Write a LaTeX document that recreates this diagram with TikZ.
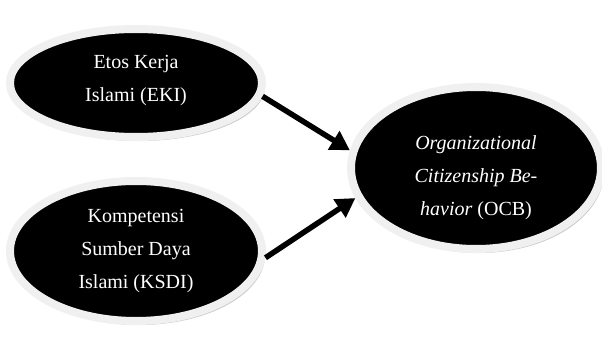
\documentclass[tikz,border=0pt]{standalone}
\usepackage{fontspec}
\setmainfont{Liberation Serif}
\usetikzlibrary{shapes.geometric,arrows.meta,shadows}
\tikzset{
  varbox/.style={ellipse, fill=black, draw=gray!12, line width=8pt, text=white,
    align=center, font=\fontsize{20pt}{33pt}\selectfont,
    drop shadow={shadow xshift=3pt, shadow yshift=-4pt, fill=gray!70, opacity=0.6}},
  link/.style={line width=5.5pt, -{Triangle[length=19pt,width=21pt]}}
}
\begin{document}
\begin{tikzpicture}[x=1pt,y=-1pt]
\useasboundingbox (0,0) rectangle (602,342);
\node[varbox, minimum width=252pt, minimum height=108pt, text depth=10pt] (eki) at (136,83) {Etos Kerja\\Islami (EKI)};
\node[varbox, minimum width=252pt, minimum height=140pt] (ksdi) at (136,251) {Kompetensi\\Sumber Daya\\Islami (KSDI)};
\node[varbox, minimum width=250pt, minimum height=162pt, text height=100pt] (ocb) at (476,168) {\textit{Organizational}\\\textit{Citizenship Be-}\\\textit{havior} (OCB)};
\path[draw,link] (eki.-6) -- (ocb.172);
\path[draw,link] (ksdi.-3) -- (ocb.194);
\end{tikzpicture}
\end{document}
